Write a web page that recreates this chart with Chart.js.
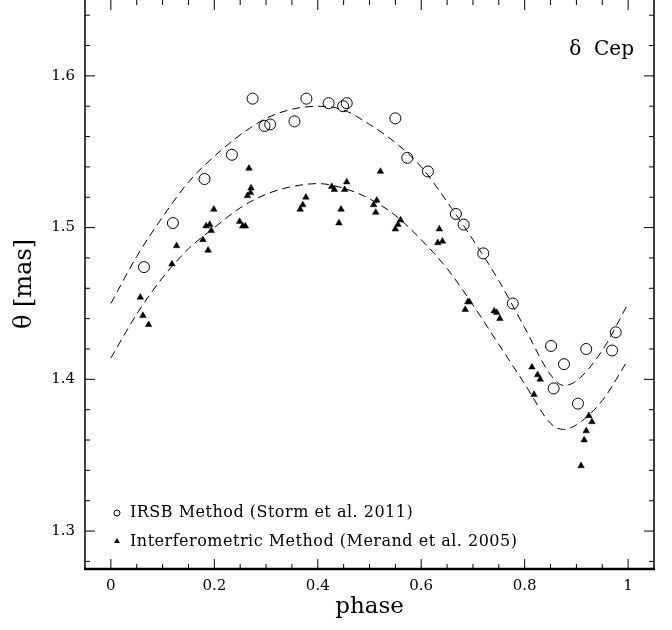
<!DOCTYPE html>
<html>
<head>
<meta charset="utf-8">
<script src="https://cdn.jsdelivr.net/npm/chart.js@4.4.1/dist/chart.umd.min.js"></script>
<style>
  body { margin: 0; background: #fff; }
  canvas { display: block; }
</style>
</head>
<body>
<canvas id="chart" width="672" height="630"></canvas>
<script>
// IRSB method points (Storm et al. 2011)
const irsbPhase = [0.064, 0.120, 0.181, 0.234, 0.274, 0.297, 0.308, 0.355, 0.378, 0.421, 0.449, 0.456,
                   0.550, 0.573, 0.613, 0.667, 0.682, 0.720, 0.777, 0.851, 0.856, 0.876, 0.903, 0.919, 0.969, 0.976];
const irsbTheta = [1.474, 1.503, 1.532, 1.548, 1.585, 1.567, 1.568, 1.570, 1.585, 1.582, 1.580, 1.582,
                   1.572, 1.546, 1.537, 1.509, 1.502, 1.483, 1.450, 1.422, 1.394, 1.410, 1.384, 1.420, 1.419, 1.431];

// interferometric points (Merand et al. 2005)
const interPhase = [0.057, 0.062, 0.073, 0.118, 0.127, 0.178, 0.184, 0.188, 0.191, 0.194, 0.199,
                    0.249, 0.255, 0.260, 0.264, 0.270, 0.271, 0.267, 0.366, 0.371, 0.377,
                    0.427, 0.432, 0.441, 0.445, 0.452, 0.456, 0.508, 0.512, 0.514, 0.521,
                    0.550, 0.555, 0.560, 0.632, 0.635, 0.641, 0.685, 0.690, 0.693,
                    0.741, 0.746, 0.752, 0.814, 0.818, 0.825, 0.830, 0.909, 0.915, 0.919, 0.924, 0.930];
const interTheta = [1.454, 1.442, 1.436, 1.476, 1.488, 1.492, 1.501, 1.485, 1.502, 1.498, 1.512,
                    1.504, 1.501, 1.501, 1.521, 1.523, 1.526, 1.539, 1.512, 1.515, 1.520,
                    1.527, 1.525, 1.503, 1.512, 1.525, 1.530, 1.515, 1.510, 1.518, 1.537,
                    1.499, 1.502, 1.505, 1.490, 1.499, 1.491, 1.446, 1.451, 1.451,
                    1.445, 1.444, 1.440, 1.408, 1.390, 1.403, 1.400, 1.343, 1.360, 1.366, 1.376, 1.372];

// dashed fit curves
const curvePhase = [0, 0.05, 0.1, 0.15, 0.2, 0.25, 0.3, 0.35, 0.4, 0.45, 0.5, 0.55, 0.6, 0.65, 0.7, 0.75, 0.8, 0.85, 0.875, 0.9, 0.95, 1.0];
const upperFit = [1.450, 1.481, 1.507, 1.530, 1.547, 1.561, 1.572, 1.578, 1.580, 1.5775, 1.568, 1.556,
                  1.540, 1.517, 1.492, 1.465, 1.434, 1.403, 1.396, 1.399, 1.419, 1.450];
const lowerFit = [1.414, 1.443, 1.467, 1.486, 1.500, 1.513, 1.522, 1.527, 1.529, 1.526, 1.519, 1.508,
                  1.492, 1.473, 1.449, 1.423, 1.397, 1.371, 1.367, 1.370, 1.386, 1.413];

// axes
const xMajor = [0, 0.2, 0.4, 0.6, 0.8, 1];
const xMinor = [0.05, 0.1, 0.15, 0.25, 0.3, 0.35, 0.45, 0.5, 0.55, 0.65, 0.7, 0.75, 0.85, 0.9, 0.95];
const yMajor = [1.3, 1.4, 1.5, 1.6];
const yMinor = [1.28, 1.32, 1.34, 1.36, 1.38, 1.42, 1.44, 1.46, 1.48, 1.52, 1.54, 1.56, 1.58, 1.62, 1.64];

const legendLabels = ['IRSB Method (Storm et al. 2011)', 'Interferometric Method (Merand et al. 2005)'];
const starName = 'δ  Cep';

const serif = '"DejaVu Serif", "Liberation Serif", serif';

function pts(xs, ys) {
    return xs.map((x, i) => ({ x: x, y: ys[i] }));
}

// frame, inward ticks, titles and legend
const framePlugin = {
    id: 'frame',
    afterDraw(chart) {
        const ctx = chart.ctx;
        const a = chart.chartArea;
        const xs = chart.scales.x, ys = chart.scales.y;
        ctx.save();
        ctx.strokeStyle = '#000';

        // top edge sits just above the picture, so only three sides show
        ctx.lineWidth = 1.5;
        ctx.beginPath();
        ctx.moveTo(a.left, a.bottom); ctx.lineTo(a.left, a.top);
        ctx.moveTo(a.right, a.top); ctx.lineTo(a.right, a.bottom);
        ctx.stroke();
        ctx.lineWidth = 2.5;
        ctx.beginPath();
        ctx.moveTo(a.left - 1, a.bottom); ctx.lineTo(a.right + 1, a.bottom);
        ctx.stroke();

        ctx.lineWidth = 1;
        ctx.beginPath();
        const tickX = (v, len) => {
            const px = xs.getPixelForValue(v);
            ctx.moveTo(px, a.bottom); ctx.lineTo(px, a.bottom - len);
            ctx.moveTo(px, a.top); ctx.lineTo(px, a.top + len);
        };
        const tickY = (v, len) => {
            const py = ys.getPixelForValue(v);
            ctx.moveTo(a.left, py); ctx.lineTo(a.left + len, py);
            ctx.moveTo(a.right, py); ctx.lineTo(a.right - len, py);
        };
        xMajor.forEach(v => tickX(v, 10));
        xMinor.forEach(v => tickX(v, 5));
        yMajor.forEach(v => tickY(v, 10));
        yMinor.forEach(v => tickY(v, 5));
        ctx.stroke();

        ctx.fillStyle = '#000';
        ctx.textAlign = 'center';
        ctx.textBaseline = 'middle';
        ctx.font = '23px ' + serif;
        ctx.fillText('phase', (a.left + a.right) / 2, 607);

        ctx.save();
        ctx.translate(25, 284);
        ctx.rotate(-Math.PI / 2);
        ctx.font = '24px ' + serif;
        ctx.fillText('θ [mas]', 0, 0);
        ctx.restore();

        ctx.textAlign = 'right';
        ctx.font = '20px ' + serif;
        ctx.fillText(starName, 634, 50);

        // legend
        ctx.textAlign = 'left';
        ctx.font = '16px ' + serif;
        ctx.letterSpacing = '0.5px';
        ctx.fillText(legendLabels[0], 130, 513);
        ctx.fillText(legendLabels[1], 130, 542);
        ctx.letterSpacing = '0px';
        ctx.lineWidth = 1;
        ctx.beginPath();
        ctx.arc(117, 513, 3, 0, Math.PI * 2);
        ctx.stroke();
        ctx.beginPath();
        ctx.moveTo(117, 538); ctx.lineTo(120, 543); ctx.lineTo(114, 543);
        ctx.closePath();
        ctx.fill();
        ctx.restore();
    }
};

new Chart(document.getElementById('chart'), {
    type: 'scatter',
    data: {
        datasets: [
            {
                label: 'upper fit',
                data: pts(curvePhase, upperFit),
                showLine: true,
                borderColor: '#000',
                borderWidth: 1,
                borderDash: [8, 5],
                pointRadius: 0,
                cubicInterpolationMode: 'monotone'
            },
            {
                label: 'lower fit',
                data: pts(curvePhase, lowerFit),
                showLine: true,
                borderColor: '#000',
                borderWidth: 1,
                borderDash: [8, 5],
                pointRadius: 0,
                cubicInterpolationMode: 'monotone'
            },
            {
                label: legendLabels[0],
                data: pts(irsbPhase, irsbTheta),
                pointStyle: 'circle',
                pointRadius: 5.5,
                borderColor: '#000',
                borderWidth: 1,
                backgroundColor: 'rgba(0,0,0,0)'
            },
            {
                label: legendLabels[1],
                data: pts(interPhase, interTheta),
                pointStyle: 'triangle',
                pointRadius: 3.8,
                borderColor: '#000',
                borderWidth: 0.5,
                backgroundColor: '#000'
            }
        ]
    },
    options: {
        responsive: false,
        animation: false,
        layout: { autoPadding: false, padding: { top: 0, right: 18, left: 0, bottom: 0 } },
        plugins: {
            legend: { display: false },
            tooltip: { enabled: false }
        },
        scales: {
            x: {
                type: 'linear',
                min: -0.05,
                max: 1.05,
                grid: { display: false, drawTicks: false },
                border: { display: false },
                afterBuildTicks: s => { s.ticks = xMajor.map(v => ({ value: v })); },
                afterFit: s => { s.height = 61; s.paddingLeft = 0; s.paddingRight = 0; },
                ticks: {
                    color: '#000',
                    padding: 8,
                    font: { family: serif, size: 15 },
                    callback: v => String(v)
                }
            },
            y: {
                type: 'linear',
                min: 1.275,
                max: 1.65,
                grid: { display: false, drawTicks: false },
                border: { display: false },
                afterBuildTicks: s => { s.ticks = yMajor.map(v => ({ value: v })); },
                afterFit: s => { s.width = 85; s.paddingTop = 0; s.paddingBottom = 0; },
                ticks: {
                    color: '#000',
                    padding: 10,
                    font: { family: serif, size: 15 },
                    callback: v => v.toFixed(1)
                }
            }
        }
    },
    plugins: [framePlugin]
});
</script>
</body>
</html>
